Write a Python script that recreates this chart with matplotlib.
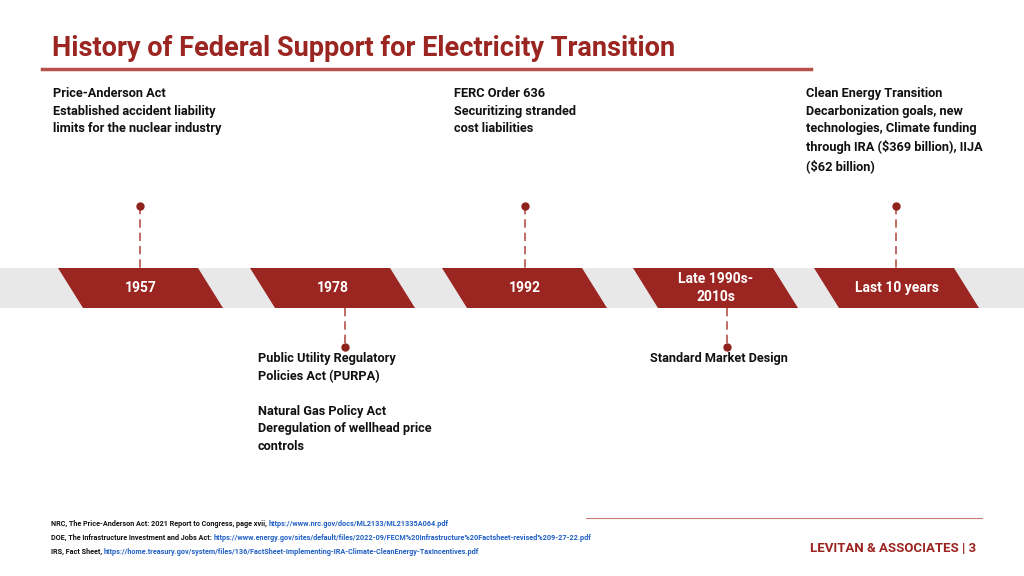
import matplotlib.pyplot as plt
from matplotlib.patches import Polygon

RED = "#9b2520"
DARK = "#8e231c"
plt.rcParams["font.family"] = "Roboto"

periods = ["1957", "1978", "1992", "Late 1990s-\n2010s", "Last 10 years"]
shape_left = [58, 250, 442, 633, 814]
pin_x = [140, 345, 525, 727, 896]
pin_side = ["up", "down", "up", "down", "up"]
event_texts = [
    "Price-Anderson Act\nEstablished accident liability\nlimits for the nuclear industry",
    "Public Utility Regulatory\nPolicies Act (PURPA)\n\nNatural Gas Policy Act\nDeregulation of wellhead price\ncontrols",
    "FERC Order 636\nSecuritizing stranded\ncost liabilities",
    "Standard Market Design",
    "Clean Energy Transition\nDecarbonization goals, new\ntechnologies, Climate funding\nthrough IRA ($369 billion), IIJA\n($62 billion)",
]
event_x = [53, 258, 454, 650, 806]
sources = [
    ("NRC, The Price-Anderson Act: 2021 Report to Congress, page xvii, ",
     "https://www.nrc.gov/docs/ML2133/ML21335A064.pdf"),
    ("DOE, The Infrastructure Investment and Jobs Act: ",
     "https://www.energy.gov/sites/default/files/2022-09/FECM%20Infrastructure%20Factsheet-revised%209-27-22.pdf"),
    ("IRS, Fact Sheet, ",
     "https://home.treasury.gov/system/files/136/FactSheet-Implementing-IRA-Climate-CleanEnergy-TaxIncentives.pdf"),
]

fig = plt.figure(figsize=(10.24, 5.76), dpi=100)
ax = fig.add_axes([0, 0, 1, 1])
ax.set_xlim(0, 1024)
ax.set_ylim(576, 0)
ax.axis("off")

ax.text(52, 48, "History of Federal Support for Electricity Transition", fontsize=19.5,
        fontweight="bold", color=RED, va="center")
ax.plot([42, 811], [69, 69], color="#b5504a", lw=2.5)

# band
ax.add_patch(plt.Rectangle((0, 268), 1024, 40, color="#e8e8e8", lw=0))
top, bot, w, skew = 268, 308, 140, 25
for lx, lab in zip(shape_left, periods):
    ax.add_patch(Polygon([(lx, top), (lx + w, top), (lx + w + skew, bot), (lx + skew, bot)],
                         closed=True, color=RED, lw=0))
    ax.text(lx + (w + skew) / 2, 288, lab, color="white", fontsize=10, fontweight="bold",
            ha="center", va="center", linespacing=1.4)

for px, side in zip(pin_x, pin_side):
    if side == "up":
        ax.plot([px, px], [206, 268], color="#b5504a", lw=1.2, ls=(0, (5, 3)))
        ax.plot(px, 206, "o", color=DARK, ms=5)
    else:
        ax.plot([px, px], [308, 347], color="#b5504a", lw=1.2, ls=(0, (5, 3)))
        ax.plot(px, 347, "o", color=DARK, ms=5)

for tx, txt, side in zip(event_x, event_texts, pin_side):
    ty = 87 if side == "up" else 352
    ax.text(tx, ty, txt, fontsize=9.2, fontweight="bold", color="#111111",
            va="top", ha="left", linespacing=1.45)

# footer
ax.plot([586, 982], [518, 518], color="#c77b75", lw=0.8)
for i, (plain, url) in enumerate(sources):
    y = 524 + i * 14
    t = ax.text(51, y, plain, fontsize=5.2, fontweight="bold", color="#111111", va="center")
    fig.canvas.draw()
    bb = t.get_window_extent()
    x2 = bb.x1
    ax.text(x2, y, url, fontsize=5.2, fontweight="bold", color="#1f5fc4", va="center")
ax.text(976, 549, "LEVITAN & ASSOCIATES | 3", fontsize=9.5, fontweight="bold",
        color=RED, ha="right", va="center")

fig.savefig("out.png", dpi=100)
